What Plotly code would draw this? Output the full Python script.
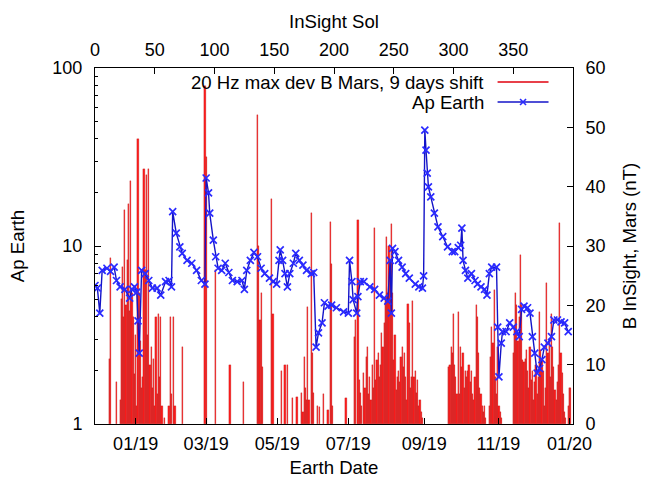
import plotly.graph_objects as go

# ---- data ----
# Red impulses: 20 Hz max deviation of B at Mars (nT), by InSight sol (9 days shift)
bar_sol = [12, 13, 18, 21, 22, 23, 24, 25, 26, 27, 28, 29, 30, 31, 32, 33, 34, 35, 36, 37, 38, 39,
           40, 41, 42, 43, 44, 45, 46, 47, 48, 49, 50, 51, 52, 53, 54, 55, 56, 58, 62, 63, 64, 66, 67,
           73, 92, 93, 101, 113, 124, 136, 137, 138, 139, 140, 148, 149, 156, 159, 161, 165, 169,
           173, 174, 175, 176, 177, 178, 179, 181, 182, 183, 186, 188, 191, 195, 197, 198, 199,
           210, 217, 218, 220, 221, 222, 223, 225, 226, 227, 228, 229, 230, 231, 232, 233, 234, 235,
           236, 237, 238, 239, 240, 241, 242, 243, 244, 245, 246, 247, 248, 249, 250, 251, 252, 253,
           254, 255, 256, 257, 258, 259, 260, 261, 262, 263, 264, 265, 266, 267, 268, 269, 270, 271,
           272, 273, 274, 296, 297, 298, 299, 300, 301, 302, 303, 304, 305, 306, 307, 308, 309, 310,
           311, 312, 313, 314, 315, 316, 317, 318, 319, 320, 321, 322, 323, 324, 325, 326, 327, 330,
           331, 332, 333, 334, 335, 336, 337, 338, 339, 340, 350, 351, 352, 353, 354, 355, 356, 357,
           358, 359, 360, 361, 362, 363, 364, 365, 366, 367, 368, 369, 370, 371, 372, 373, 374, 375,
           376, 377, 378, 379, 380, 381, 382, 383, 384, 385, 386, 387, 388, 389, 390, 391, 392, 393,
           394, 396, 397, 398]
bar_nt = [11, 28, 7, 4, 21, 26.5, 18, 36, 20, 27.6, 37, 19, 41, 22, 18, 8.5, 15, 3, 48, 22, 14, 6,
          8, 43, 26, 42, 15, 43, 10, 13, 6, 11, 3, 18, 5, 18.6, 8, 18, 3, 1, 3, 18, 5, 18, 3,
          13, 57, 45, 26, 10, 7, 52, 30, 17.6, 22, 9.6, 38, 18.5, 9, 10, 10, 4.3, 4.6,
          5.2, 2, 11.3, 6, 4, 19.7, 4, 35.5, 12, 5.2, 3, 2.9, 5, 2.4, 34, 27, 3,
          4.3, 14.7, 17.6, 34.4, 7.5, 5.2, 3, 8.6, 6, 11.3, 13, 5, 8, 4, 10, 6, 33, 7.5,
          10.8, 12, 8, 10, 15.4, 13, 17, 21, 31.6, 22, 30, 24.5, 33.7, 22, 10.8, 15, 5.8, 8,
          9, 7, 11.3, 13, 9.6, 12, 8, 4, 20.3, 17, 6, 8, 20.8, 8, 9, 5.2, 7.5, 3,
          4, 2, 1, 9.6, 10, 13, 12, 18.6, 10, 8, 5, 18.9, 5, 13, 9.6, 12, 6, 9,
          8, 9, 10, 7, 9, 5, 4, 8, 20, 18, 12, 6, 5, 3, 2, 3, 1, 3,
          11.3, 16.4, 13.6, 22.6, 8, 5, 13, 3, 2, 1, 12, 16.4, 22, 20, 14, 18, 28.5, 20,
          10.8, 10.5, 11, 12.5, 9, 6, 13, 7.5, 9, 4, 7, 10, 5, 8, 18.9, 12.5, 10.8, 9,
          3, 6, 23.7, 12, 14.2, 8, 18.6, 13, 9.6, 5.8, 4, 7, 10, 33.8, 12, 8.6, 5, 2,
          1, 3, 6, 6]

# Blue line: Ap index at Earth, by InSight sol
ap_sol = [0, 2, 4, 6, 10, 13, 16, 18, 21, 25, 29, 31, 33, 35, 36, 37, 39, 42, 45, 48, 52, 55, 59,
          62, 64, 65, 68, 71, 73, 77, 81, 85, 89, 92, 93, 95, 96, 99, 101, 103, 106, 109, 112, 115,
          119, 123, 125, 127, 130, 133, 136, 139, 142, 146, 149, 152, 154, 155, 157, 159, 161, 163,
          166, 168, 171, 174, 177, 181, 183, 185, 187, 190, 192, 195, 198, 202, 208, 212, 213, 215,
          216, 219, 220, 222, 225, 230, 234, 238, 242, 245, 247, 248, 249, 251, 254, 257, 260, 263,
          268, 271, 274, 275, 276, 277, 278, 279, 281, 284, 287, 291, 295, 299, 301, 304, 306, 307,
          308, 310, 312, 315, 318, 320, 323, 326, 328, 330, 332, 336, 337, 338, 340, 341, 344, 347,
          350, 353, 355, 357, 359, 362, 364, 366, 368, 370, 372, 374, 376, 379, 382, 384, 387, 390,
          393, 396]
ap_val = [6.0, 5.8, 4.2, 7.3, 7.5, 7.2, 7.6, 6.4, 5.9, 5.7, 5.1, 5.7, 5.9, 5.5, 3.8, 2.5, 7.3, 7.0,
          6.4, 5.8, 5.8, 5.3, 6.3, 6.4, 5.9, 15.6, 11.8, 9.9, 9.1, 8.3, 8.0, 7.3, 6.4, 6.1, 24.1,
          19.9, 15.3, 10.8, 8.7, 7.5, 7.3, 8.0, 7.1, 6.4, 6.3, 6.4, 5.7, 7.3, 8.3, 9.2, 8.7, 7.5,
          7.0, 6.6, 6.3, 6.1, 8.3, 9.5, 8.3, 7.0, 5.9, 7.0, 8.0, 9.1, 8.3, 7.8, 7.3, 7.0, 7.1, 2.7,
          3.25, 3.7, 4.8, 4.6, 4.66, 4.5, 4.27, 4.2, 8.3, 6.3, 5.0, 4.2, 5.2, 6.3, 6.3, 5.9, 5.7,
          5.3, 5.1, 4.9, 8.3, 4.2, 9.7, 9.3, 8.3, 7.6, 7.0, 6.6, 6.1, 5.9, 5.8, 6.8, 44.8, 34.6,
          25.7, 21.5, 18.9, 15.3, 12.8, 11.3, 9.9, 9.3, 9.3, 9.8, 10.1, 12.6, 8.3, 7.3, 6.6, 7.0,
          6.4, 6.1, 5.9, 5.7, 5.3, 7.0, 7.6, 7.6, 3.5, 1.84, 2.85, 3.3, 3.3, 3.7, 3.5, 3.3, 3.1,
          4.4, 4.6, 4.5, 4.2, 3.1, 2.5, 1.93, 2.05, 2.3, 2.7, 2.85, 3.1, 3.84, 3.84, 3.75, 3.7,
          3.3]

date_labels = ["01/19", "03/19", "05/19", "07/19", "09/19", "11/19", "01/20"]
date_label_sol = [34, 93, 152.5, 212, 275.5, 337.5, 397]
sol_ticks = [0, 50, 100, 150, 200, 250, 300, 350]
ap_ticks = [1, 10, 100]
b_ticks = [0, 10, 20, 30, 40, 50, 60]

# ---- figure ----
W, H = 648, 480
ML, MR, MT, MB = 95, 74.5, 68, 56
PW, PH = W - ML - MR, H - MT - MB
FONT = "Liberation Sans, Arial, Helvetica, sans-serif"
RED_LINE = "#e8404a"
BLUE = "#1414c8"
TS = 18.6  # title / legend font size

fig = go.Figure()
fig.add_trace(go.Bar(
    x=bar_sol, y=bar_nt, xaxis="x", yaxis="y", width=1.0,
    marker=dict(color="rgba(255,10,10,0.92)",
                line=dict(color="rgba(165,20,20,0.85)", width=0.3)),
    showlegend=False, name="20 Hz max dev B Mars, 9 days shift"))
fig.add_trace(go.Scatter(
    x=ap_sol, y=ap_val, xaxis="x2", yaxis="y2", mode="lines+markers",
    line=dict(color=BLUE, width=1.4),
    marker=dict(symbol="x-thin", size=7, line=dict(color="#2a2aff", width=1.7)),
    showlegend=False, name="Ap Earth"))

tickfont = dict(family=FONT, size=18, color="black")
common = dict(showgrid=False, zeroline=False, showline=True, linecolor="black", linewidth=1,
              ticks="inside", ticklen=6, tickcolor="black", tickfont=tickfont, automargin=False)

fig.update_layout(
    template="none",
    width=W, height=H, margin=dict(l=ML, r=MR, t=MT, b=MB, pad=0, autoexpand=False),
    paper_bgcolor="white", plot_bgcolor="white", bargap=0,
    font=dict(family=FONT, size=18, color="black"),
    xaxis=dict(range=[0, 400], tickmode="array", tickvals=date_label_sol, ticktext=date_labels,
               title=dict(text="Earth Date", standoff=8, font=dict(size=TS)),
               anchor="y", side="bottom", ticklabelstandoff=3, **common),
    xaxis2=dict(range=[0, 400], tickmode="array", tickvals=sol_ticks, overlaying="x",
                title=dict(text="InSight Sol", standoff=6, font=dict(size=TS)),
                anchor="y2", side="top", ticklabelstandoff=4, **common),
    yaxis=dict(range=[0, 60], tickmode="array", tickvals=b_ticks, side="right", anchor="x",
               title=dict(text="B InSight, Mars (nT)", standoff=18, font=dict(size=TS)),
               ticklabelstandoff=8, **common),
    yaxis2=dict(type="log", range=[0, 2], tickmode="array", tickvals=ap_ticks,
                ticktext=[str(v) for v in ap_ticks], overlaying="y", side="left", anchor="x2",
                title=dict(text="Ap Earth", standoff=22, font=dict(size=TS)),
                minor=dict(ticks="inside", ticklen=3, tickcolor="black",
                           tickvals=[2, 3, 4, 5, 6, 7, 8, 9, 20, 30, 40, 50, 60, 70, 80, 90]),
                ticklabelstandoff=8, **common),
)

# ---- legend (gnuplot style: text right-aligned, sample on the right) ----
def px_x(px):
    return (px - ML) / PW

def px_y(py):
    return (H - MB - py) / PH

leg_text_right = 486
leg_line = (498, 549)
leg_rows = [(82, "20 Hz max dev B Mars, 9 days shift", RED_LINE),
            (102, "Ap Earth", BLUE)]
for py, txt, col in leg_rows:
    fig.add_annotation(x=px_x(leg_text_right), y=px_y(py), xref="paper", yref="paper",
                       text=txt, showarrow=False, xanchor="right", yanchor="middle",
                       font=dict(family=FONT, size=TS, color="black"))
    fig.add_shape(type="line", xref="paper", yref="paper",
                  x0=px_x(leg_line[0]), x1=px_x(leg_line[1]), y0=px_y(py), y1=px_y(py),
                  line=dict(color=col, width=2 if col == RED_LINE else 1.3))
# x marker at middle of Ap sample
cx, cy, r = (leg_line[0] + leg_line[1]) / 2, 102, 3
path = (f"M {px_x(cx-r)},{px_y(cy-r)} L {px_x(cx+r)},{px_y(cy+r)} "
        f"M {px_x(cx-r)},{px_y(cy+r)} L {px_x(cx+r)},{px_y(cy-r)}")
fig.add_shape(type="path", path=path, xref="paper", yref="paper",
              line=dict(color="#2a2aff", width=1.6))

fig.write_html("out.html")
